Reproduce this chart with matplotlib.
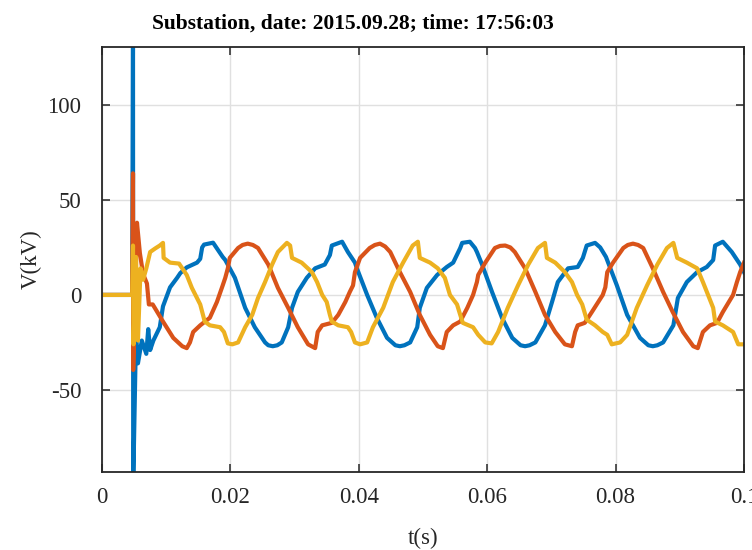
import numpy as np
import matplotlib
matplotlib.use("Agg")
from matplotlib import pyplot as plt

# three phase voltages, time in ms, voltage in kV
t_a = [0, 4.7, 4.83, 4.86, 5.3, 5.6, 6.2, 6.9, 7.2, 7.5, 8.0, 9.0, 9.5, 10.6, 11.7, 12.2,
       13.2, 14.8, 15.3, 15.6, 15.9, 17.3, 18.0, 18.8, 19.2, 20.7, 22.3, 23.8, 25.4, 25.9,
       26.6, 27.3, 28.0, 29.0, 29.6, 30.5, 31.9, 33.2, 34.7, 35.5, 35.8, 37.4, 38.3, 39.4,
       39.7, 41.3, 42.8, 44.4, 45.7, 46.4, 47.1, 48.0, 49.1, 49.5, 50.6, 52.2, 53.7, 54.7,
       55.8, 56.1, 57.3, 58.1, 58.4, 59.2, 60.75, 62.3, 63.9, 65.2, 65.9, 66.6, 67.5, 69.0,
       70.1, 71.0, 72.6, 74.1, 74.9, 75.5, 76.8, 77.6, 78.5, 80.2, 81.8, 83.8, 85.1, 85.8,
       86.5, 87.4, 89.0, 89.7, 91.1, 92.7, 94.2, 95.2, 95.5, 96.7, 98.1, 99.4, 100]
v_a = [0, 0, 140, -100, -20, -36, -24, -31, -18, -29, -24, -17, -6, 4, 9, 11.5,
       14.5, 17, 19, 25, 26.5, 27.5, 24, 20, 18.4, 9, -6.8, -17, -25, -26.5,
       -27, -26.5, -25, -17, -6.8, 1.6, 9, 14, 16, 21, 26, 28, 22.6, 17,
       14, 0, -12, -22.6, -26.5, -27, -26.5, -25, -17, -6.8, 3.7, 10.5, 14.7, 17,
       24.7, 27.4, 28, 24.7, 22.6, 16, 1.6, -12, -22.6, -26.5, -27, -26.5, -25, -16,
       -3.7, 6.8, 14, 14.7, 19.5, 26, 27.4, 25, 20, 5, -10.5, -22.6, -26.5, -27,
       -26.5, -25, -16, -1.6, 6.8, 12, 14.7, 18.4, 26, 28, 22.6, 16, 12]

t_b = [0, 4.7, 4.83, 4.86, 5.45, 5.9, 6.4, 7.0, 7.3, 7.9, 9.5, 11.1, 12.5, 13.2, 13.7,
       14.2, 15.3, 16.8, 17.9, 18.8, 19.2, 19.6, 19.9, 21.2, 21.9, 22.7, 23.5, 24.3, 25.9,
       27.4, 29.0, 30.5, 32.1, 33.2, 33.6, 34.3, 35.8, 36.8, 37.9, 38.6, 39.1, 39.4, 40.2,
       41.7, 42.5, 43.3, 44.1, 44.9, 46.4, 48.0, 49.5, 51.1, 52.3, 53.1, 53.7, 54.7, 55.8,
       56.9, 57.8, 58.4, 58.6, 59.7, 61.2, 62.0, 62.8, 63.6, 64.3, 65.9, 67.5, 69.0, 70.6,
       72.1, 73.2, 73.7, 74.1, 75.2, 76.3, 77.3, 78.0, 78.4, 78.7, 79.6, 81.2, 81.9, 82.7,
       83.5, 84.3, 85.8, 87.4, 88.9, 90.5, 92.1, 92.8, 93.6, 94.7, 95.8, 96.7, 98.3, 98.9,
       99.4, 100]
v_b = [0, 0, 64, -39.5, 38, 22, 11, 6, -5, -5, -14, -22.6, -27, -28, -25,
       -19.5, -16, -12, -3.7, 5, 9, 14, 19.5, 24.7, 26.3, 27, 26.3, 24.7, 16,
       3.7, -6.8, -17, -26, -28, -19.5, -16, -14.7, -10.5, -3.7, 1.6, 5, 12, 19.5,
       24.7, 26.3, 27, 25.5, 22.6, 12, 1.6, -10.5, -21, -27, -28, -19.5, -16, -14,
       -6.8, 0, 6.8, 10.5, 17, 24.7, 25.8, 26, 25, 22.6, 14, 1.6, -10.5, -19.5,
       -26, -27, -19.5, -16, -14.7, -9, -3.7, 0, 4, 12, 17, 24.7, 26.3, 27,
       26.3, 24.7, 14, 1.6, -9, -19.5, -27, -28, -19.5, -16, -14.7, -9, 0, 6.8,
       12, 17]

t_c = [0, 4.7, 4.83, 4.9, 5.3, 5.6, 6.0, 6.4, 6.9, 7.5, 8.3, 9.0, 9.5, 9.6, 10.6,
       12.0, 13.2, 14.0, 15.3, 16.0, 16.8, 18.4, 19.0, 19.6, 20.3, 21.2, 22.3, 23.4, 24.3,
       25.4, 26.5, 27.4, 28.8, 29.3, 29.6, 31.1, 32.7, 33.5, 34.3, 35.0, 35.5, 35.8, 36.8,
       38.3, 38.8, 39.4, 40.2, 41.3, 42.2, 43.8, 45.3, 46.9, 48.4, 49.2, 49.5, 51.1, 52.3,
       53.4, 54.2, 55.3, 55.8, 56.2, 57.8, 58.6, 59.7, 60.7, 61.7, 63.2, 64.8, 66.4, 67.9,
       69.0, 69.3, 70.6, 72.1, 73.2, 74.0, 74.8, 75.5, 76.8, 78.0, 78.7, 79.4, 80.7, 81.8,
       83.3, 84.9, 86.5, 88.0, 89.0, 89.6, 91.1, 92.7, 93.6, 94.4, 95.2, 95.5, 96.7, 98.3,
       99.1, 100]
v_c = [0, 0, 26, -26, 20, -24, 14, 8, 14, 22.6, 24.5, 26, 27.4, 19.5, 17,
       16.5, 10.5, 3.7, -5, -14, -16, -17, -19.5, -25.5, -26, -25, -17, -10.5, -1.6,
       6.8, 16, 22.6, 27.4, 26, 19.5, 17, 12, 6.8, 0, -3.7, -10.5, -14, -16,
       -17, -19.5, -25, -26, -25, -17, -6.8, 6.8, 17, 26, 28, 19.5, 17, 14,
       9, 0, -5, -10.5, -14.7, -17, -21, -25, -25.5, -19.5, -6.8, 5, 16, 24.7,
       27.4, 19.5, 17, 12, 6.8, 0, -5, -13, -16, -19.5, -21, -26, -25, -21,
       -6.8, 5, 16, 24.7, 27.4, 19.5, 17, 14, 6.8, 0, -6.8, -14, -16, -19.5,
       -26, -26]

colors = ['#0072BD', '#D95319', '#EDB120']

plt.rcParams['font.family'] = ['Liberation Serif', 'DejaVu Serif']
plt.rcParams['axes.unicode_minus'] = False

fig = plt.figure(figsize=(7.52, 5.5), dpi=100)
ax = fig.add_axes([102 / 752, 1 - 472 / 550, 642 / 752, 425 / 550])

for t, v, c in zip([t_a, t_b, t_c], [v_a, v_b, v_c], colors):
    ax.plot(np.array(t) / 1000, v, color=c, lw=3.0, solid_joinstyle='round')

ax.set_xlim(0, 0.1)
ax.set_ylim(-93.2, 130.5)
ax.set_xticks([0, 0.02, 0.04, 0.06, 0.08, 0.1])
ax.set_xticklabels(['0', '0.02', '0.04', '0.06', '0.08', '0.1'])
ax.set_yticks([-50, 0, 50, 100])
ax.grid(True, color='#e0e0e0', lw=1.0)
ax.set_axisbelow(True)
ax.tick_params(direction='in', length=6, width=1.1, color='#262626',
               top=True, right=True, labelsize=16.5, labelcolor='#262626')
ax.tick_params(axis='x', pad=11)
ax.tick_params(axis='y', pad=15)
for s in ax.spines.values():
    s.set_color('#262626')
    s.set_linewidth(1.3)

ax.set_xlabel('t(s)', fontsize=16.5, color='#262626', labelpad=14)
ax.set_ylabel('V(kV)', fontsize=16.5, color='#262626', labelpad=4)
ax.set_title('Substation, date: 2015.09.28; time: 17:56:03', fontsize=15.5,
             fontweight='bold', x=0.39, pad=13)

fig.savefig('out.png', dpi=100)
